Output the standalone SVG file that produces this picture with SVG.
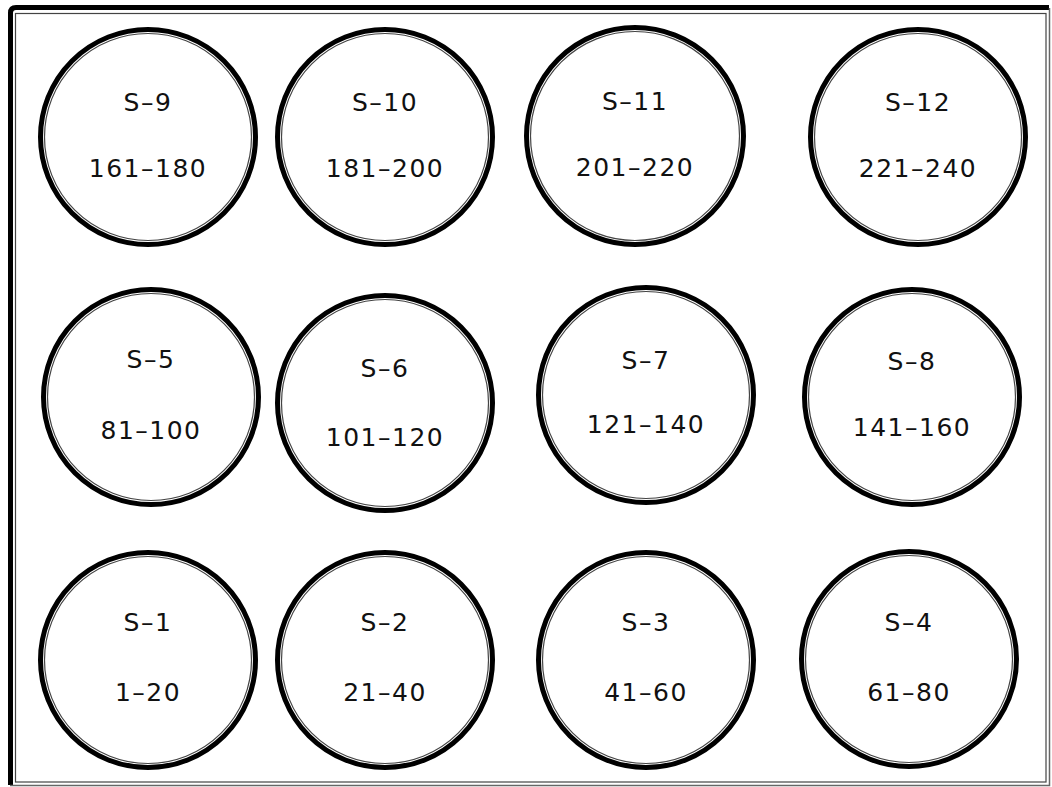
<svg xmlns="http://www.w3.org/2000/svg" width="1052" height="787" viewBox="0 0 1052 787">
<style>
.ro{fill:#fff;stroke:#000;stroke-width:5}
.ri{fill:none;stroke:#444;stroke-width:1.2}
text{font-family:"DejaVu Sans",sans-serif;font-size:25px;fill:#111;text-anchor:middle;letter-spacing:1.5px}
</style>
<rect width="1052" height="787" fill="#fff"/>
<g id="frame">
<path d="M10.5,785 L10.5,13 Q10.5,7.5 16,7.5 L1049,7.5" fill="none" stroke="#000" stroke-width="5"/>
<path d="M1049.5,8 L1049.5,785.5 L10,785.5" fill="none" stroke="#666" stroke-width="1.5"/>
<rect x="15.5" y="13.5" width="1030.5" height="768.5" fill="none" stroke="#444" stroke-width="1.2"/>
</g>
<g id="S-9"><circle class="ro" cx="148" cy="137" r="107.5"/><circle class="ri" cx="148" cy="137" r="103.5"/><text x="148" y="111">S–9</text><text x="148" y="177">161–180</text></g>
<g id="S-10"><circle class="ro" cx="385" cy="137" r="107.5"/><circle class="ri" cx="385" cy="137" r="103.5"/><text x="385" y="111">S–10</text><text x="385" y="177">181–200</text></g>
<g id="S-11"><circle class="ro" cx="635" cy="136" r="108.5"/><circle class="ri" cx="635" cy="136" r="104.5"/><text x="635" y="110">S–11</text><text x="635" y="176">201–220</text></g>
<g id="S-12"><circle class="ro" cx="918" cy="137" r="107.5"/><circle class="ri" cx="918" cy="137" r="103.5"/><text x="918" y="111">S–12</text><text x="918" y="177">221–240</text></g>
<g id="S-5"><circle class="ro" cx="151" cy="397" r="107.5"/><circle class="ri" cx="151" cy="397" r="103.5"/><text x="151" y="368">S–5</text><text x="151" y="439">81–100</text></g>
<g id="S-6"><circle class="ro" cx="385" cy="403" r="107.5"/><circle class="ri" cx="385" cy="403" r="103.5"/><text x="385" y="377">S–6</text><text x="385" y="446">101–120</text></g>
<g id="S-7"><circle class="ro" cx="646" cy="395" r="107.5"/><circle class="ri" cx="646" cy="395" r="103.5"/><text x="646" y="369">S–7</text><text x="646" y="433">121–140</text></g>
<g id="S-8"><circle class="ro" cx="912" cy="397" r="107.5"/><circle class="ri" cx="912" cy="397" r="103.5"/><text x="912" y="370">S–8</text><text x="912" y="436">141–160</text></g>
<g id="S-1"><circle class="ro" cx="148" cy="660" r="107.5"/><circle class="ri" cx="148" cy="660" r="103.5"/><text x="148" y="631">S–1</text><text x="148" y="701">1–20</text></g>
<g id="S-2"><circle class="ro" cx="385" cy="660" r="107.5"/><circle class="ri" cx="385" cy="660" r="103.5"/><text x="385" y="631">S–2</text><text x="385" y="701">21–40</text></g>
<g id="S-3"><circle class="ro" cx="646" cy="660" r="107.5"/><circle class="ri" cx="646" cy="660" r="103.5"/><text x="646" y="631">S–3</text><text x="646" y="701">41–60</text></g>
<g id="S-4"><circle class="ro" cx="909" cy="659" r="107.5"/><circle class="ri" cx="909" cy="659" r="103.5"/><text x="909" y="631">S–4</text><text x="909" y="701">61–80</text></g>
</svg>
